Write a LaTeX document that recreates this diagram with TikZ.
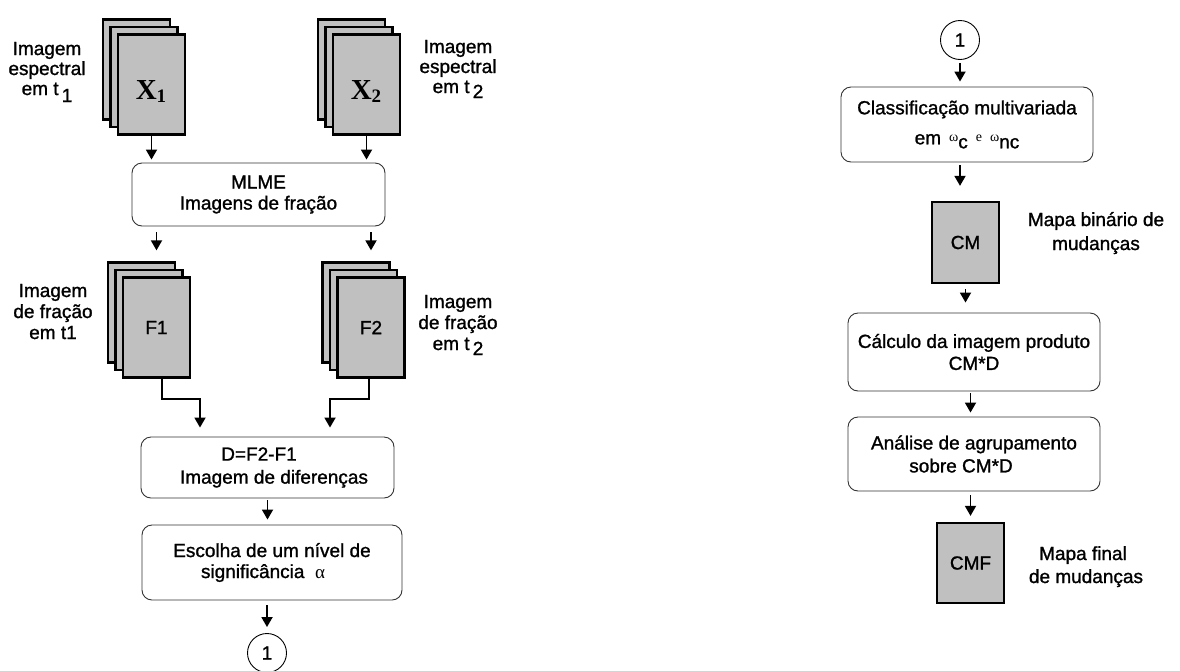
\documentclass[tikz,border=0pt]{standalone}
\usepackage{fontspec}
\setmainfont{Liberation Sans}[FakeBold=1.2]
\newfontfamily\serifrm{Liberation Serif}
\usetikzlibrary{arrows.meta}
\definecolor{silver}{RGB}{192,192,192}
\newcommand\dfont{\fontsize{19pt}{21pt}\selectfont}
\newcommand\smallsym[1]{\raisebox{3pt}{\serifrm\fontsize{14pt}{14pt}\selectfont #1}}
\begin{document}
\begin{tikzpicture}[x=1pt,y=-1pt,
  layer/.style={draw=black, line width=2.3pt, fill=silver, minimum width=67pt, minimum height=100pt, inner sep=0pt, font=\dfont},
  mapbox/.style={draw=black, line width=2.3pt, fill=silver, minimum width=67pt, minimum height=81pt, inner sep=0pt, font=\dfont},
  proc/.style={draw=black!80, line width=0.9pt, rounded corners=10pt, fill=white, inner sep=0pt, align=center, font=\dfont},
  lbl/.style={align=center, inner sep=0pt, font=\dfont},
  xtext/.style={inner sep=0pt, font=\serifrm\bfseries\fontsize{29pt}{29pt}\selectfont},
  arr/.style={line width=1.8pt, -{Triangle[width=11pt,length=10pt]}},
  conn/.style={draw=black, line width=0.9pt, circle, minimum size=39pt, inner sep=0pt, font=\dfont}]
\useasboundingbox (0,0) rectangle (1180,670);
\fill[white] (0,0) rectangle (1180,670);

% ---- stacks X1, X2
\node[layer] (X1c) at (136.5,69.5) {};
\node[layer] (X1b) at (144,77) {};
\node[layer] (X1) at (151.5,84.5) {};
\node[xtext] (X1t) at (151,92) {X\raisebox{-3pt}{\fontsize{19pt}{19pt}\selectfont 1}};
\node[layer] (X2c) at (351.5,69.5) {};
\node[layer] (X2b) at (359,77) {};
\node[layer] (X2) at (366.5,84.5) {};
\node[xtext] (X2t) at (366,92) {X\raisebox{-3pt}{\fontsize{19pt}{19pt}\selectfont 2}};

\node[lbl, anchor=base] (L1) at (47,95) {Imagem\\[-1pt]espectral\\[-1pt]em t\,\raisebox{-7pt}{1}};
\node[lbl, anchor=base] (L2) at (458,93) {Imagem\\[-1pt]espectral\\[-1pt]em t\,\raisebox{-5pt}{2}};

% ---- MLME
\node[proc, minimum width=253pt, minimum height=63pt] (MLME) at (258.5,194.5) {MLME\\Imagens de fração};

% ---- stacks F1, F2
\node[layer] (F1c) at (141.5,312.5) {};
\node[layer] (F1b) at (149,320) {};
\node[layer] (F1) at (156.5,327.5) {F1};
\node[layer] (F2c) at (356,312.5) {};
\node[layer] (F2b) at (363.5,320) {};
\node[layer] (F2) at (371,327.5) {F2};

\node[lbl, anchor=base] (L3) at (53,339) {Imagem\\de fração\\em t1};
\node[lbl, anchor=base] (L4) at (458,350) {Imagem\\de fração\\em t\,\raisebox{-5pt}{2}};

% ---- D, Escolha, connector 1
\node[proc, minimum width=253pt, minimum height=61pt] (D) at (267.5,467.5) {D=F2-F1\hspace*{17pt}\\[2pt]\hspace*{13pt}Imagem de diferenças};
\node[proc, minimum width=260pt, minimum height=75pt] (Esc) at (272,562.5) {Escolha de um nível de\\\hspace*{0pt}significância\ \ {\serifrm α}\hspace*{18pt}};
\node[conn] (C1) at (267,653) {1};

% ---- right column
\node[conn] (C2) at (960,40) {1};
\node[proc, minimum width=252pt, minimum height=75pt] (Cls) at (967,124.5) {Classificação multivariada\\[9pt]em\hspace{8pt}\smallsym{ω}\raisebox{-4pt}{c}\hspace{8pt}\smallsym{e}\hspace{8pt}\smallsym{ω}\raisebox{-4pt}{nc}};
\node[mapbox] (CM) at (965.5,242.5) {CM};
\node[lbl, anchor=base] (L5) at (1096,250) {Mapa binário de\\[3pt]mudanças};
\node[proc, minimum width=252pt, minimum height=78pt] (Calc) at (974,352) {Cálculo da imagem produto\\[1pt]CM*D};
\node[proc, minimum width=252pt, minimum height=74pt] (Ana) at (974,454) {Análise de agrupamento\\[2pt]\hspace*{0pt}sobre CM*D\hspace*{26pt}};
\node[mapbox, minimum height=80pt] (CMF) at (970.5,563) {CMF};
\node[lbl, anchor=base] (L6) at (1086,583) {Mapa final\hspace*{6pt}\\[2pt]de mudanças};

% ---- arrows left
\draw[arr, shorten >=3pt] (X1.south) -- (X1.south |- MLME.north);
\draw[arr, shorten >=3pt] (X2.south) -- (X2.south |- MLME.north);
\draw[arr, shorten <=6pt, shorten >=11pt] (MLME.south -| F1.north) -- (F1.north |- F1c.north);
\draw[arr, shorten <=6pt, shorten >=11pt] (MLME.south -| F2.north) -- (F2.north |- F2c.north);
\draw[arr, shorten >=9pt] ([xshift=5.5pt]F1.south) -- ++(0,20) -| ([xshift=-67.5pt]D.north);
\draw[arr, shorten >=9pt] ([xshift=-2pt]F2.south) -- ++(0,20) -| ([xshift=62.5pt]D.north);
\draw[arr, shorten <=2pt, shorten >=5pt] (D.south) -- (D.south |- Esc.north);
\draw[arr, shorten <=5pt, shorten >=6pt] (Esc.south -| C1.north) -- (C1.north);

% ---- arrows right
\draw[arr, shorten <=3pt, shorten >=5pt] (C2.south) -- (C2.south |- Cls.north);
\draw[arr, shorten <=3pt, shorten >=15pt] (Cls.south -| C2.south) -- (C2.south |- CM.north);
\draw[arr, shorten <=5pt, shorten >=10pt] (CM.south) -- (CM.south |- Calc.north);
\draw[arr, shorten <=2pt, shorten >=4pt] (Calc.south -| CMF.north) -- (Ana.north -| CMF.north);
\draw[arr, shorten <=4pt, shorten >=6pt] (Ana.south -| CMF.north) -- (CMF.north);
\end{tikzpicture}
\end{document}
